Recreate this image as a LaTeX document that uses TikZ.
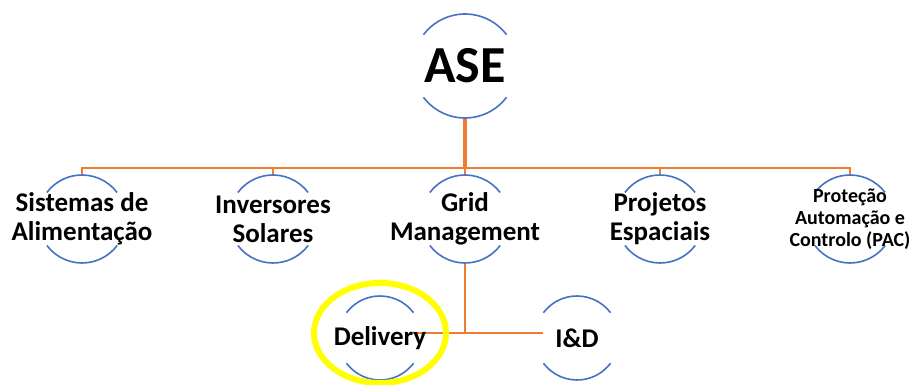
\documentclass[tikz,border=0pt]{standalone}
\usepackage{fontspec}
\setsansfont{Carlito}
\usetikzlibrary{positioning, calc}
\definecolor{ringblue}{HTML}{4472C4}
\definecolor{linkorange}{HTML}{ED7D31}
\definecolor{markyellow}{HTML}{FFFF00}

\begin{document}
\begin{tikzpicture}[
    x=1pt, y=1pt,
    every node/.style={font=\sffamily\bfseries},
    unit/.style={circle, inner sep=0pt, outer sep=0pt, minimum size=2*#1},
    lbl/.style={align=center, font=\sffamily\bfseries\fontsize{27}{29}\selectfont},
    small/.style={align=center, font=\sffamily\bfseries\fontsize{20}{22}\selectfont},
    ring/.style={ringblue, line width=1.6pt},
    branch/.style={linkorange, line width=2.2pt},
    trunk/.style={linkorange, line width=4pt}
]
    \useasboundingbox (0,0) rectangle (916,385);

    % units
    \node[unit=52pt] (ase)   at (465,319) {};
    \node[unit=44pt] (sis)   at (82,166)  {};
    \node[unit=44pt] (inv)   at (273,166) {};
    \node[unit=44pt] (grid)  at (465,166) {};
    \node[unit=44pt] (proj)  at (660,166) {};
    \node[unit=44pt] (pac)   at (850,166) {};
    \node[unit=42pt] (deliv) at (380,47)  {};
    \node[unit=42pt] (ind)   at (577,47)  {};

    % connectors
    \coordinate (bar)  at (465,217);
    \coordinate (fork) at (465,52);
    \draw[trunk] (ase.south) -- (bar);
    \foreach \n in {sis, inv, grid, proj, pac}
        \draw[branch] (\n.north) |- (bar);
    \draw[branch] (grid.south) -- (fork);
    \draw[branch, shorten <=-9pt, shorten >=-8pt] (deliv.east |- fork) -- (ind.west |- fork);

    % partial rings
    \foreach \n/\r in {ase/52, sis/44, inv/44, grid/44, proj/44, pac/44, deliv/42, ind/42} {
        \draw[ring] (\n.37) arc[start angle=37, end angle=143, radius=\r];
        \draw[ring] (\n.217) arc[start angle=217, end angle=323, radius=\r];
    }

    % texts
    \node[font=\sffamily\bfseries\fontsize{52}{56}\selectfont] at (ase) {ASE};
    \node[lbl] at (sis)   {Sistemas de\\Alimentação};
    \node[lbl] at (inv)   {Inversores\\Solares};
    \node[lbl] at (grid)  {Grid\\Management};
    \node[lbl] at (proj)  {Projetos\\Espaciais};
    \node[small] at (pac) {Proteção\\Automação e\\Controlo (PAC)};
    \node[lbl] at (deliv) {Delivery};
    \node[lbl] at (ind)   {I\&D};

    \draw[markyellow, line width=6pt] (380,52) ellipse[x radius=66, y radius=50];
\end{tikzpicture}
\end{document}
